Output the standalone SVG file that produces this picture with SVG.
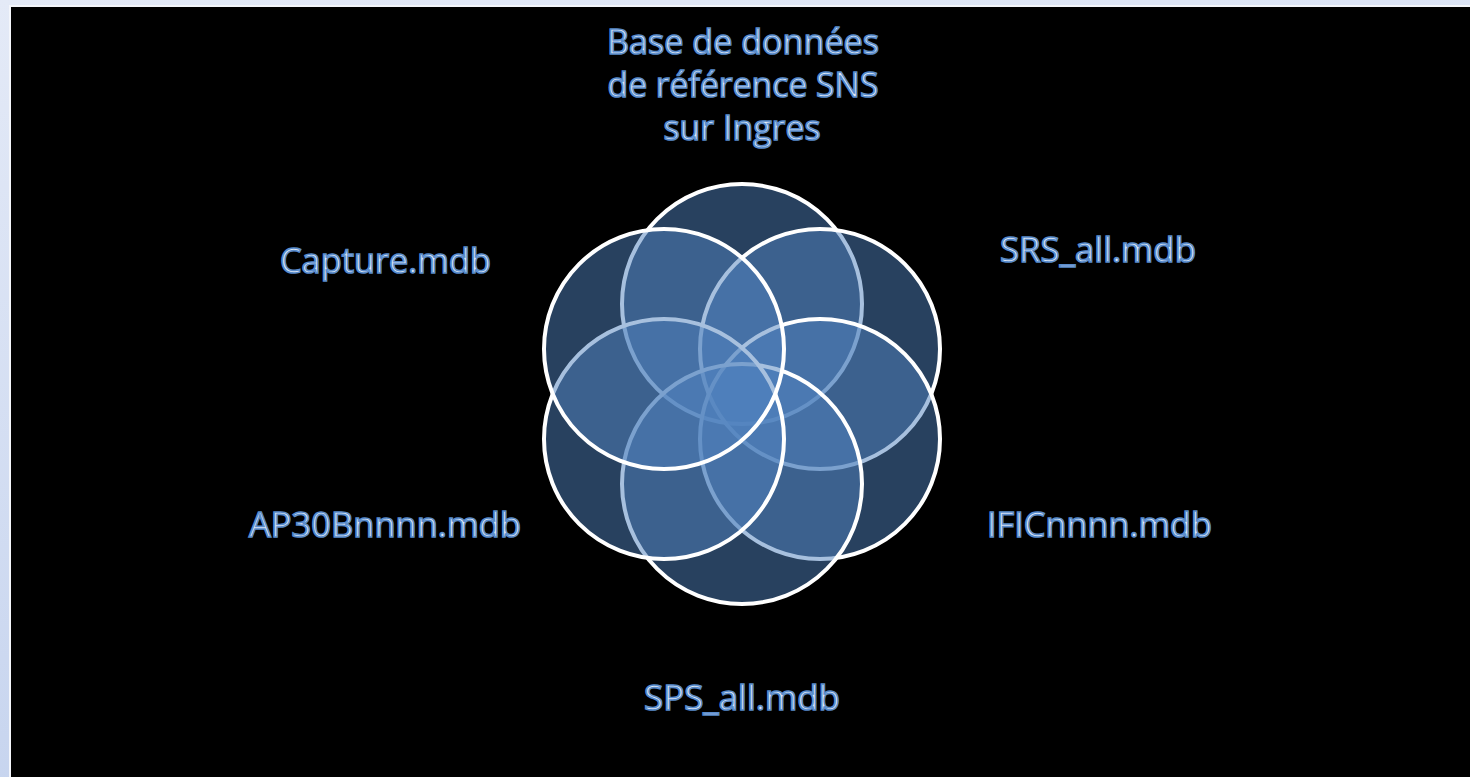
<svg xmlns="http://www.w3.org/2000/svg" width="1470" height="777" viewBox="0 0 1470 777">
<defs>
<linearGradient id="bg" x1="0" y1="0" x2="0.3" y2="1">
<stop offset="0" stop-color="#e4eaf7"/>
<stop offset="1" stop-color="#c5d3ee"/>
</linearGradient>
</defs>
<style>
.ring{fill:#4f81bd;fill-opacity:0.5;stroke:#ffffff;stroke-width:4}
.lbl{font-family:"Open Sans","Noto Sans","DejaVu Sans",sans-serif;font-size:34px;fill:#e3ecf8;stroke:#5a8ccb;stroke-width:1.7}
</style>
<rect x="0" y="0" width="1470" height="777" fill="url(#bg)"/>
<rect x="9" y="5" width="1461" height="772" fill="#f4f6fb"/>
<rect x="11" y="7" width="1459" height="770" fill="#000000"/>
<g id="circles">
<circle id="c-top" class="ring" cx="742" cy="304" r="120"/>
<circle id="c-topright" class="ring" cx="820" cy="349" r="120"/>
<circle id="c-bottomright" class="ring" cx="820" cy="439" r="120"/>
<circle id="c-bottom" class="ring" cx="742" cy="484" r="120"/>
<circle id="c-bottomleft" class="ring" cx="664" cy="439" r="120"/>
<circle id="c-topleft" class="ring" cx="664" cy="349" r="120"/>
</g>
<g id="node-title">
<text class="lbl" x="743" y="54" text-anchor="middle" font-size="33" textLength="272" lengthAdjust="spacingAndGlyphs">Base de données</text>
<text class="lbl" x="743" y="97" text-anchor="middle" font-size="33" textLength="271" lengthAdjust="spacingAndGlyphs">de référence SNS</text>
<text class="lbl" x="742" y="139.5" text-anchor="middle" font-size="33" textLength="157" lengthAdjust="spacingAndGlyphs">sur Ingres</text>
</g>
<g id="node-srs"><text class="lbl" x="1000" y="261.5" textLength="196" lengthAdjust="spacingAndGlyphs">SRS_all.mdb</text></g>
<g id="node-ific"><text class="lbl" x="987" y="536.5" textLength="225" lengthAdjust="spacingAndGlyphs">IFICnnnn.mdb</text></g>
<g id="node-sps"><text class="lbl" x="644" y="710" textLength="196" lengthAdjust="spacingAndGlyphs">SPS_all.mdb</text></g>
<g id="node-ap30b"><text class="lbl" x="249" y="536.5" textLength="272" lengthAdjust="spacingAndGlyphs">AP30Bnnnn.mdb</text></g>
<g id="node-capture"><text class="lbl" x="280" y="272.5" textLength="211" lengthAdjust="spacingAndGlyphs">Capture.mdb</text></g>
<g id="connectors"></g>
</svg>
